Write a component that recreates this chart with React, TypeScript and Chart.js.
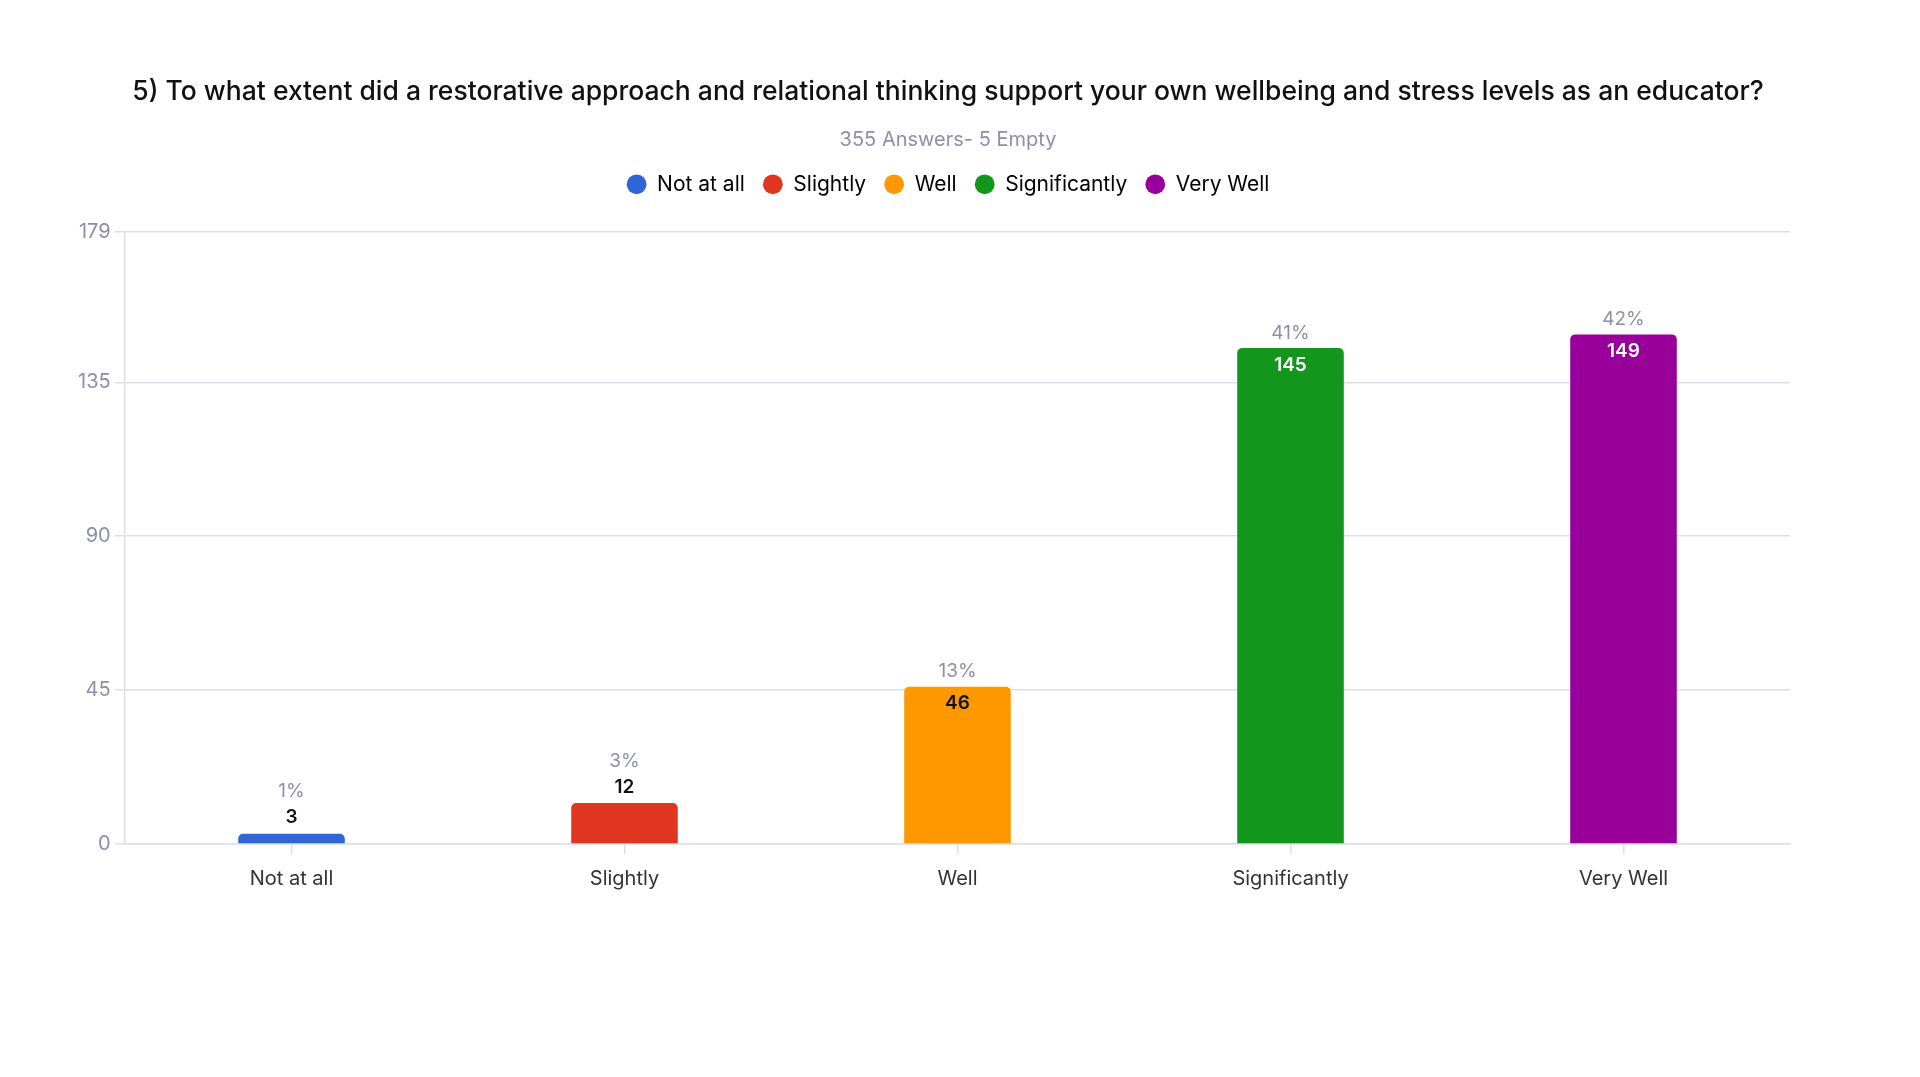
import React, { useEffect, useRef } from 'react'
import { Chart, registerables } from 'chart.js'

Chart.register(...registerables)

const categories = ['Not at all', 'Slightly', 'Well', 'Significantly', 'Very Well']
const counts = [3, 12, 46, 145, 149]
const percents = ['1%', '3%', '13%', '41%', '42%']
const barColors = ['#2f66d6', '#e0351f', '#fd9800', '#13961c', '#980099']
const valueColors = ['#111111', '#111111', '#111111', '#ffffff', '#ffffff']
const yTicks = [0, 45, 90, 135, 179]

const FONT = 'Inter, "Noto Sans", sans-serif'
const GRID = '#dedee9'
const MUTED = '#8e8ea8'

// count + percent over each bar
const barLabels = {
  id: 'barLabels',
  afterDatasetsDraw(chart: Chart) {
    const { ctx } = chart
    const meta = chart.getDatasetMeta(0)
    ctx.save()
    ctx.textAlign = 'center'
    ctx.textBaseline = 'middle'
    meta.data.forEach((bar: any, i: number) => {
      const h = bar.base - bar.y
      const inside = h > 60
      const valueY = inside ? bar.y + 17 : bar.y - 16
      const pctY = inside ? bar.y - 15 : bar.y - 42
      ctx.font = `600 19px ${FONT}`
      ctx.fillStyle = inside ? valueColors[i] : '#111111'
      ctx.fillText(String(counts[i]), bar.x, valueY)
      ctx.font = `400 19px ${FONT}`
      ctx.fillStyle = MUTED
      ctx.fillText(percents[i], bar.x, pctY)
    })
    ctx.restore()
  },
}

// extra room under the legend
const legendGap = {
  id: 'legendGap',
  beforeInit(chart: any) {
    const fit = chart.legend.fit
    chart.legend.fit = function () {
      fit.bind(chart.legend)()
      this.height += 27
    }
  },
}

export default function App() {
  const canvasRef = useRef<HTMLCanvasElement>(null)
  const chartRef = useRef<Chart | null>(null)

  useEffect(() => {
    if (!canvasRef.current) return
    if (chartRef.current) chartRef.current.destroy()

    chartRef.current = new Chart(canvasRef.current, {
      type: 'bar',
      data: {
        labels: categories,
        datasets: [{
          label: 'Answers',
          data: counts,
          backgroundColor: barColors,
          borderRadius: 5,
          barPercentage: 0.32,
          categoryPercentage: 1,
        }],
      },
      options: {
        animation: false,
        responsive: true,
        maintainAspectRatio: false,
        layout: { padding: { top: 0, left: 106, right: 130, bottom: 173 } },
        plugins: {
          title: {
            display: true,
            text: '5) To what extent did a restorative approach and relational thinking support your own wellbeing and stress levels as an educator?',
            color: '#111111',
            font: { family: FONT, size: 26.5, weight: 500 },
            padding: { top: 76, bottom: 20 },
          },
          subtitle: {
            display: true,
            text: '355 Answers- 5 Empty',
            color: MUTED,
            font: { family: FONT, size: 20, weight: 400 },
            padding: { top: 0, bottom: 4 },
          },
          legend: {
            display: true,
            labels: {
              generateLabels: () => categories.map((c, i) => ({
                text: c,
                fillStyle: barColors[i],
                strokeStyle: barColors[i],
                lineWidth: 0,
                pointStyle: 'circle',
                hidden: false,
                datasetIndex: 0,
                index: i,
              })),
              usePointStyle: true,
              boxWidth: 20,
              boxHeight: 14,
              color: '#333333',
              font: { family: FONT, size: 21 },
              padding: 18,
            },
          },
          tooltip: { enabled: false },
        },
        scales: {
          x: {
            grid: { offset: false, drawOnChartArea: false, drawTicks: true, tickLength: 10, color: GRID, lineWidth: 1.5 },
            border: { display: true, color: GRID, width: 1.5 },
            ticks: { color: '#333333', font: { family: FONT, size: 20 }, padding: 13 },
          },
          y: {
            min: 0,
            max: 179,
            afterBuildTicks: (axis: any) => {
              axis.ticks = yTicks.map((v) => ({ value: v }))
            },
            afterFit: (axis: any) => {
              axis.width = 19
            },
            grid: { color: GRID, tickLength: 10, lineWidth: 1.5 },
            border: { display: true, color: GRID, width: 1.5 },
            ticks: {
              color: MUTED,
              font: { family: FONT, size: 20 },
              mirror: true,
              crossAlign: 'far',
              padding: -47,
            },
          },
        },
      },
      plugins: [barLabels, legendGap],
    })

    return () => chartRef.current?.destroy()
  }, [])

  return (
    <div style={{ position: 'fixed', inset: 0, background: '#ffffff' }}>
      <canvas ref={canvasRef} />
    </div>
  )
}
